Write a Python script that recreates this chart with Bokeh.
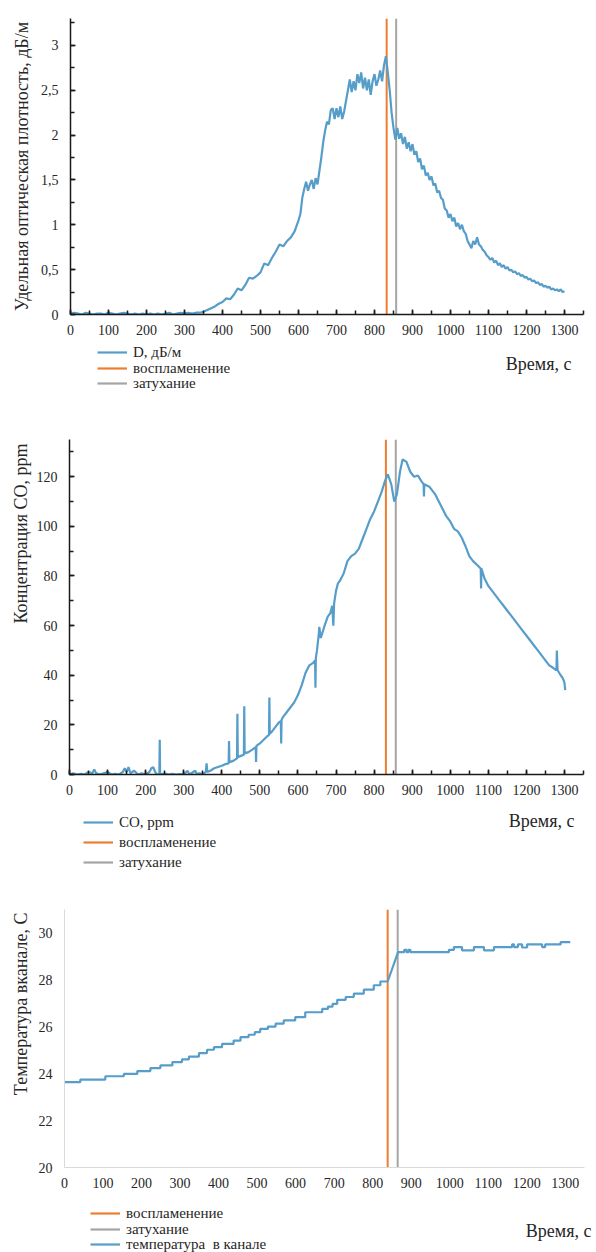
from bokeh.plotting import figure
from bokeh.models import (Range1d, SingleIntervalTicker, FixedTicker, CustomJSTickFormatter,
                          Legend, LegendItem, Label, Title)
from bokeh.embed import file_html
from bokeh.resources import INLINE

FONT = "Liberation Serif"
BLUE = "#569dca"
ORANGE = "#ed7d31"
GRAY = "#a5a5a5"
TXT = "#262626"
W = 596
NAN = float("nan")

# ---------------- data ----------------
# Chart 1: specific optical density D, dB/m (10 s steps up to 590 s, then 5 s steps)
d_time = list(range(0, 600, 10)) + list(range(600, 1301, 5))
d_value = [
    0.01, 0.02, 0.01, 0.00, 0.02, 0.01, 0.00, 0.01, 0.01, 0.00,   # 0-90
    0.02, 0.01, 0.00, 0.01, 0.02, 0.01, 0.00, 0.01, 0.00, 0.01,   # 100-190
    0.00, 0.01, 0.00, 0.01, 0.00, 0.01, 0.02, 0.00, 0.01, 0.02,   # 200-290
    0.01, 0.02, 0.01, 0.02, 0.02, 0.03, 0.05, 0.07, 0.09, 0.12,   # 300-390
    0.14, 0.18, 0.17, 0.22, 0.29, 0.27, 0.33, 0.41, 0.40, 0.43,   # 400-490
    0.47, 0.57, 0.55, 0.63, 0.70, 0.78, 0.76, 0.82, 0.86, 0.93,   # 500-590
    1.05, 1.12, 1.30, 1.40, 1.48, 1.38, 1.45, 1.50, 1.40, 1.52,   # 600-645
    1.45, 1.60, 1.75, 1.92, 2.05, 2.15, 2.12, 2.28, 2.30, 2.18,   # 650-695
    2.30, 2.20, 2.32, 2.18, 2.26, 2.38, 2.50, 2.62, 2.48, 2.60,   # 700-745
    2.50, 2.68, 2.58, 2.70, 2.52, 2.64, 2.50, 2.62, 2.45, 2.60,   # 750-795
    2.68, 2.55, 2.62, 2.72, 2.60, 2.78, 2.88, 2.70, 2.50, 2.25,   # 800-845
    2.08, 1.95, 2.08, 1.96, 2.02, 1.90, 1.98, 1.85, 1.92, 1.82,   # 850-895
    1.90, 1.78, 1.82, 1.70, 1.74, 1.62, 1.66, 1.55, 1.58, 1.50,   # 900-945
    1.54, 1.44, 1.46, 1.36, 1.38, 1.30, 1.28, 1.18, 1.16, 1.08,   # 950-995
    1.12, 1.04, 1.08, 0.98, 1.02, 0.95, 1.00, 0.93, 0.90, 0.82,   # 1000-1045
    0.78, 0.74, 0.82, 0.78, 0.86, 0.78, 0.76, 0.72, 0.70, 0.66,   # 1050-1095
    0.64, 0.61, 0.63, 0.58, 0.60, 0.55, 0.57, 0.53, 0.55, 0.51,   # 1100-1145
    0.53, 0.49, 0.50, 0.47, 0.48, 0.45, 0.46, 0.43, 0.44, 0.41,   # 1150-1195
    0.42, 0.39, 0.40, 0.37, 0.38, 0.35, 0.36, 0.33, 0.34, 0.31,   # 1200-1245
    0.32, 0.30, 0.31, 0.28, 0.29, 0.27, 0.28, 0.26, 0.28, 0.25,   # 1250-1295
    0.26,                                                         # 1300
]
d_events = [832, 857]          # ignition, extinction (s)

# Chart 2: CO concentration, ppm
co_time = [0, 10, 20, 30, 40, 50, 60, 65, 70, 80, 90, 100, 110, 120, 130, 140, 145, 150, 155, 160,
           170, 180, 190, 200, 210, 215, 220, 225, 230, 236, 237, 238, 250, 260, 270, 280, 290, 300,
           310, 315, 320, 330, 335, 340, 350, 358, 360, 362, 370, 380, 390, 400, 410, 418, 419, 420,
           430, 440, 441, 442, 450, 458, 459, 460, 470, 480, 489, 490, 491, 500, 510, 520, 524, 525,
           526, 530, 540, 550, 555, 556, 557, 560, 570, 580, 590, 600, 610, 620, 630, 640, 645, 646,
           647, 650, 655, 656, 660, 670, 678, 685, 690, 693, 695, 700, 705, 710, 720, 730, 740, 750,
           760, 770, 780, 790, 800, 810, 820, 828, 836, 845, 853, 860, 868, 875, 885, 895, 905, 915,
           925, 930, 931, 932, 945, 960, 970, 980, 990, 1000, 1010, 1020, 1030, 1040, 1050, 1060, 1070,
           1080, 1081, 1082, 1090, 1100, 1110, 1120, 1130, 1140, 1150, 1160, 1170, 1180, 1190, 1200,
           1210, 1220, 1230, 1240, 1250, 1260, 1270, 1279, 1280, 1282, 1290, 1295, 1300, 1302]
co_value = [0, 0.5, 0, 0.3, 0, 1, 0.5, 2, 0.5, 0, 0.5, 1, 0, 0.3, 0, 1, 2.5, 1, 3, 0.5,
            1.5, 0, 0.5, 0, 1, 2.5, 3, 1, 0, 0, 14, 0, 0.5, 0, 0.3, 0, 0.2, 0,
            1.5, 0, 0.5, 1.5, 0, 0.5, 0.3, 1, 4.5, 1, 1.5, 2.5, 3, 3.5, 4.2, 4.5, 13.5, 5,
            5.5, 6.5, 24.5, 7, 7.5, 8, 27.5, 8.5, 9, 10, 11, 5, 11.5, 12.5, 14, 15.5, 16, 31,
            16.5, 17, 19, 21, 21.5, 12.5, 22, 23, 25, 27, 29, 32, 36, 41, 44, 45, 46, 35,
            47, 50, 57, 59.5, 55, 60, 63.5, 65, 68, 60, 69, 74, 77, 78, 81, 86, 88, 89,
            91, 95, 99, 103, 106, 110, 114, 118, 121, 117, 110, 113, 122, 127, 126, 122, 120, 120.5,
            118, 117, 112, 117, 116, 113, 110, 107, 104, 102, 99, 98, 95.5, 92, 88, 86, 84.5,
            83, 75, 83, 79, 76, 74, 72, 70, 68, 66, 64, 62, 60, 58, 56,
            54, 52, 50, 48, 46, 44, 43, 42, 50, 42, 40, 39, 37, 34]
co_events = [831, 857]

# Chart 3: temperature in the channel, C (step levels)
temp_pre_start = [0, 41, 106, 154, 189, 223, 249, 280, 305, 323, 349, 370, 388, 409, 439, 457,
                  478, 494, 508, 528, 548, 569, 599, 625, 669, 684, 696, 708, 730, 751, 777, 803, 820]
temp_pre_level = [23.64, 23.75, 23.89, 23.99, 24.11, 24.24, 24.35, 24.49, 24.61, 24.73, 24.88,
                  25.02, 25.13, 25.27, 25.41, 25.56, 25.66, 25.77, 25.91, 26.01, 26.13, 26.27,
                  26.41, 26.62, 26.76, 26.86, 26.98, 27.15, 27.27, 27.41, 27.58, 27.77, 27.93]
temp_post_start = [866, 882, 888, 893, 898, 998, 1011, 1032, 1063, 1089, 1115, 1162, 1167, 1177,
                   1188, 1201, 1240, 1248, 1288]
temp_post_level = [29.18, 29.28, 29.18, 29.28, 29.18, 29.28, 29.40, 29.26, 29.40, 29.26, 29.40,
                   29.51, 29.40, 29.51, 29.38, 29.51, 29.40, 29.51, 29.61]
temp_end = 1313
temp_events = [839, 865]


def steps(starts, levels, end):
    xs, ys = [], []
    nxt = starts[1:] + [end]
    for s, e, v in zip(starts, nxt, levels):
        xs += [s, e]
        ys += [v, v]
    return xs, ys


tx1, ty1 = steps(temp_pre_start, temp_pre_level, temp_events[0])
tx2, ty2 = steps(temp_post_start, temp_post_level, temp_end)
temp_time = tx1 + tx2
temp_value = ty1 + ty2

comma = CustomJSTickFormatter(code="return String(tick).replace('.', ',');")


def make_fig(height, bl, bt, bb, br, xr, yr):
    p = figure(width=W, height=height, x_range=Range1d(*xr), y_range=Range1d(*yr),
               output_backend="svg", toolbar_location=None, title=None,
               min_border_left=bl, min_border_top=bt, min_border_bottom=bb, min_border_right=br)
    p.outline_line_color = None
    p.xgrid.visible = False
    p.ygrid.visible = False
    for ax in (p.xaxis, p.yaxis):
        ax.major_label_text_font = FONT
        ax.major_label_text_font_size = "14px"
        ax.major_label_text_color = TXT
        ax.axis_line_color = "#1a1a1a"
        ax.axis_line_width = 1.5
        ax.major_tick_line_color = "#1a1a1a"
        ax.minor_tick_line_color = "#1a1a1a"
        ax.major_tick_line_width = 1.5
        ax.minor_tick_line_width = 1.5
        ax.major_tick_in = 5
        ax.major_tick_out = 0
        ax.minor_tick_in = 4
        ax.minor_tick_out = 0
    p.xaxis.major_label_standoff = 10
    p.yaxis.major_label_standoff = 12
    p.xaxis.ticker = SingleIntervalTicker(interval=100, num_minor_ticks=2)
    return p


def y_title(p, text, align, standoff, offset=0):
    p.add_layout(Title(text=text, align=align, offset=offset, standoff=standoff,
                       text_font=FONT, text_font_size="18px", text_font_style="normal",
                       text_color=TXT), "left")


def legend_fig(height, items, x, bottoms, xlabel_x, xlabel_y):
    f = figure(width=W, height=height, x_range=Range1d(0, W), y_range=Range1d(0, height),
               output_backend="svg", toolbar_location=None, title=None,
               x_axis_location=None, y_axis_location=None, min_border=0)
    f.outline_line_color = None
    f.xgrid.visible = False
    f.ygrid.visible = False
    for (label, color), b in zip(items, bottoms):
        r = f.line(x=[NAN], y=[NAN], line_color=color, line_width=2.2)
        f.add_layout(Legend(items=[LegendItem(label=label, renderers=[r])], location=(x, b),
                            background_fill_alpha=0, border_line_color=None, padding=0, margin=0,
                            spacing=0, glyph_width=30, glyph_height=20, label_height=20,
                            label_standoff=6, label_text_font=FONT, label_text_font_size="15px",
                            label_text_color=TXT, label_text_baseline="middle"))
    f.add_layout(Label(x=xlabel_x, y=xlabel_y, text="Время, с", text_align="right",
                       text_baseline="middle", text_font=FONT, text_font_size="18px",
                       text_color=TXT))
    return f


# ---------------- chart 1 ----------------
p1 = make_fig(342, 70, 18, 28, 13, (0, 1350), (0, 3.3))
p1.yaxis.ticker = SingleIntervalTicker(interval=0.5, num_minor_ticks=2)
p1.yaxis.formatter = comma
y_title(p1, "Удельная оптическая плотность, дБ/м", "center", 11)
p1.line([d_events[0]] * 2, [0, 3.3], line_color=ORANGE, line_width=2)
p1.line([d_events[1]] * 2, [0, 3.3], line_color=GRAY, line_width=2)
p1.line(d_time, d_value, line_color=BLUE, line_width=2.2)
l1 = legend_fig(76, [("D, дБ/м", BLUE), ("воспламенение", ORANGE), ("затухание", GRAY)],
                97, [56, 40, 25], 571, 55)

# ---------------- chart 2 ----------------
p2 = make_fig(382, 69, 21, 26, 13, (0, 1350), (0, 135))
p2.yaxis.ticker = SingleIntervalTicker(interval=20, num_minor_ticks=2)
y_title(p2, "Концентрация CO, ppm", "right", 5, 4)
p2.line([co_events[0]] * 2, [0, 135], line_color=ORANGE, line_width=2)
p2.line([co_events[1]] * 2, [0, 135], line_color=GRAY, line_width=2)
p2.line(co_time, co_value, line_color=BLUE, line_width=2.2)
l2 = legend_fig(76, [("CO, ppm", BLUE), ("воспламенение", ORANGE), ("затухание", GRAY)],
                83, [44, 24, 4], 574, 56)

# ---------------- chart 3 ----------------
p3 = make_fig(318, 64, 33, 27, 12, (0, 1350), (20, 31))
p3.yaxis.ticker = FixedTicker(ticks=[20, 22, 24, 26, 28, 30])
for ax in (p3.xaxis, p3.yaxis):
    ax.axis_line_color = "#d9d9d9"
    ax.axis_line_width = 1
    ax.major_tick_line_color = None
    ax.minor_tick_line_color = None
y_title(p3, "Температура вканале, С", "right", 9, 3)
p3.line([temp_events[0]] * 2, [20, 31], line_color=ORANGE, line_width=2)
p3.line([temp_events[1]] * 2, [20, 31], line_color=GRAY, line_width=2)
p3.line(temp_time, temp_value, line_color=BLUE, line_width=2.2)
l3 = legend_fig(58, [("воспламенение", ORANGE), ("затухание", GRAY),
                     ("температура  в канале", BLUE)], 90, [29, 13, -2], 591, 22)

open("out.html", "w").write(file_html([p1, l1, p2, l2, p3, l3], INLINE))
